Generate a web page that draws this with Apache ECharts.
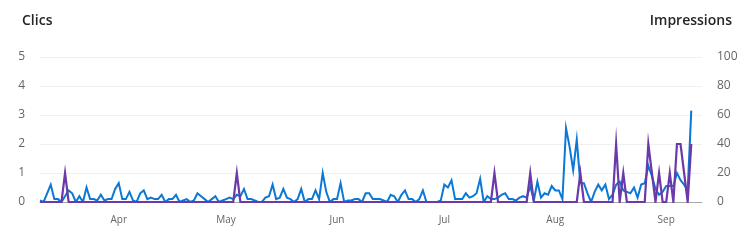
<!DOCTYPE html>
<html><head><meta charset="utf-8">
<script src="https://cdn.jsdelivr.net/npm/echarts@6/dist/echarts.min.js"></script>
<style>html,body{margin:0;padding:0;background:#fff}#c{width:754px;height:241px}</style>
</head><body><div id="c"></div>
<script>
// first day of the series and right end of the time axis (UTC)
const startDate = [2024, 2, 10];   // 10 Mar
const axisEndDate = [2024, 8, 11]; // 11 Sep
const monthNames = ['Jan','Feb','Mar','Apr','May','Jun','Jul','Aug','Sep','Oct','Nov','Dec'];

// daily impressions (right axis)
const impressions = [
  1,0,6,12,2,2,0,4,8,6,
  0,4,0,10,2,2,1,5,1,2,
  2,9,13,2,2,7,1,0,6,8,
  2,3,2,2,5,0,2,2,5,0,
  1,2,0,1,6,4,2,0,2,4,
  0,1,2,3,2,5,4,9,2,2,
  1,0,0,3,4,12,2,3,9,3,
  2,0,2,9,0,2,2,8,2,20,
  7,0,2,2,13,0,1,1,2,2,
  0,6,6,2,2,2,1,0,5,4,
  0,5,8,2,2,0,2,8,0,0,
  0,0,1,12,10,15,2,2,2,6,
  3,4,6,16,0,4,2,2,3,5,
  6,2,2,1,3,4,3,11,1,14,
  3,6,5,11,8,8,2,51,38,22,
  43,13,13,6,0,7,12,8,12,2,
  5,12,14,8,7,6,10,3,12,13,
  25,18,9,5,7,11,11,11,20,15,
  12,8,63
];

// daily clicks (left axis)
const clicks = [
  0,0,0,0,0,0,0,1,0,0,
  0,0,0,0,0,0,0,0,0,0,
  0,0,0,0,0,0,0,0,0,0,
  0,0,0,0,0,0,0,0,0,0,
  0,0,0,0,0,0,0,0,0,0,
  0,0,0,0,0,1,0,0,0,0,
  0,0,0,0,0,0,0,0,0,0,
  0,0,0,0,0,0,0,0,0,0,
  0,0,0,0,0,0,0,0,0,0,
  0,0,0,0,0,0,0,0,0,0,
  0,0,0,0,0,0,0,0,0,0,
  0,0,0,0,0,0,0,0,0,0,
  0,0,0,0,0,0,0,1,0,0,
  0,0,0,0,0,0,0,1,0,0,
  0,0,0,0,0,0,0,0,0,0,
  0,1,0,0,0,0,0,0,0,0,
  0,2,0,1,0,0,0,0,0,0,
  2,1,0,1,0,0,1,0,2,2,
  1,0,2
];

const DAY = 86400000;
const t0 = Date.UTC(startDate[0], startDate[1], startDate[2]);
const tEnd = Date.UTC(axisEndDate[0], axisEndDate[1], axisEndDate[2]);
const impData = impressions.map((v, i) => [t0 + i * DAY, v]);
const clkData = clicks.map((v, i) => [t0 + i * DAY, v]);

const chart = echarts.init(document.getElementById('c'), null, {renderer: 'canvas'});
const FONT = '"Open Sans", "Noto Sans", sans-serif';
chart.setOption({
  useUTC: true,
  animation: false,
  textStyle: {fontFamily: FONT},
  title: [
    {text: 'Clics', left: 17, top: 9, textStyle: {fontFamily: FONT, fontSize: 14, fontWeight: 600, color: '#252525'}},
    {text: 'Impressions', right: 17, top: 9, textStyle: {fontFamily: FONT, fontSize: 14, fontWeight: 600, color: '#252525'}}
  ],
  grid: {left: 40, right: 52, top: 57, bottom: 39},
  xAxis: {
    type: 'time',
    min: t0,
    max: tEnd,
    minInterval: 28 * DAY,
    maxInterval: 31 * DAY,
    axisLine: {show: true, lineStyle: {color: '#a8a8a8', width: 1}},
    axisTick: {show: false},
    splitLine: {show: false},
    axisLabel: {
      color: '#666',
      fontSize: 10,
      margin: 13,
      hideOverlap: false,
      formatter: function (val) {
        const d = new Date(val);
        return d.getUTCDate() === 1 ? monthNames[d.getUTCMonth()] : '';
      }
    }
  },
  yAxis: [
    {
      type: 'value', min: 0, max: 5, interval: 1, position: 'left',
      axisLine: {show: false}, axisTick: {show: false},
      splitLine: {lineStyle: {color: '#f0f0f0', width: 1}},
      axisLabel: {color: '#666', fontSize: 12, margin: 15}
    },
    {
      type: 'value', min: 0, max: 100, interval: 20, position: 'right',
      axisLine: {show: false}, axisTick: {show: false},
      splitLine: {show: false},
      axisLabel: {color: '#666', fontSize: 12, margin: 15}
    }
  ],
  series: [
    {
      name: 'Impressions', type: 'line', yAxisIndex: 1, data: impData,
      symbol: 'none', z: 2,
      lineStyle: {color: '#0a78d4', width: 2, join: 'miter', miterLimit: 20}
    },
    {
      name: 'Clics', type: 'line', yAxisIndex: 0, data: clkData,
      symbol: 'none', z: 3,
      lineStyle: {color: '#6b3aa8', width: 2.2, join: 'miter', miterLimit: 20}
    }
  ]
});
</script>
</body></html>
